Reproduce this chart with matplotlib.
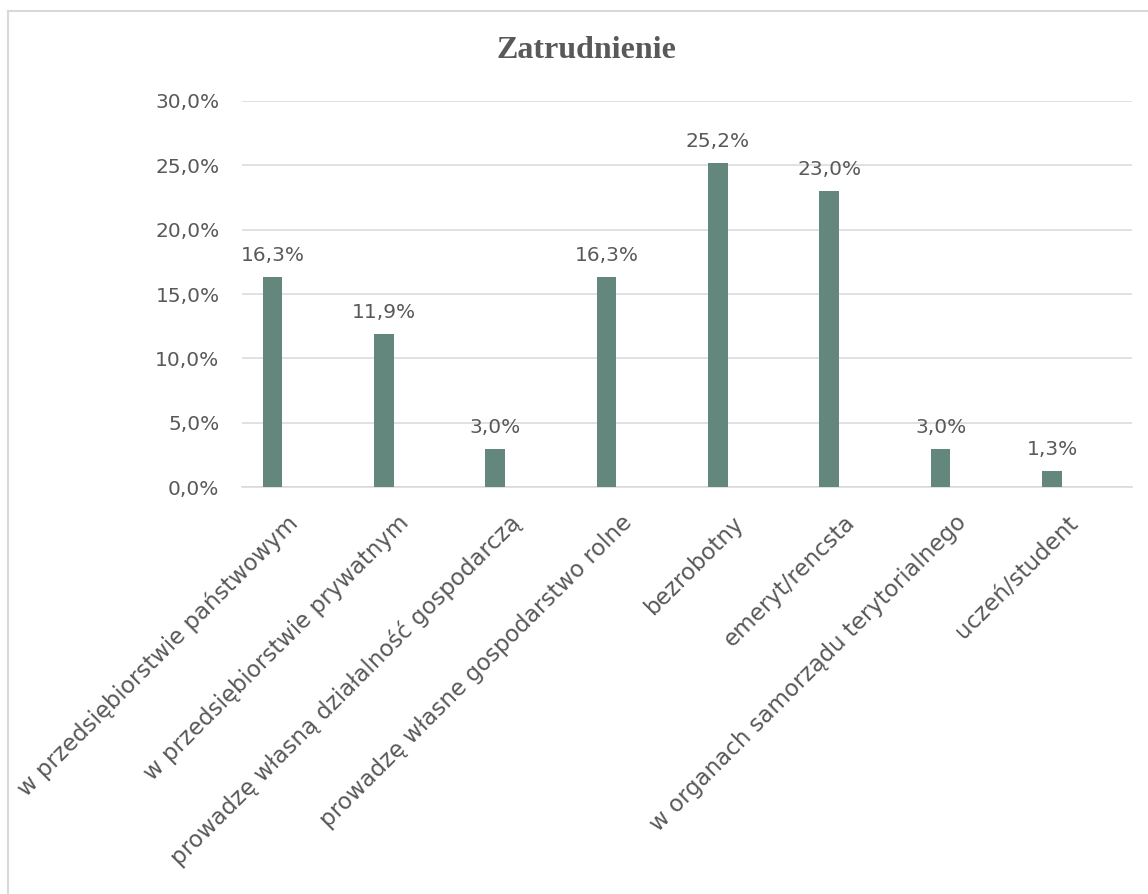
import matplotlib
matplotlib.use("Agg")
import matplotlib.pyplot as plt
from matplotlib.lines import Line2D
from matplotlib.transforms import ScaledTranslation
from matplotlib.ticker import FuncFormatter

categories = [
    "w przedsiębiorstwie państwowym",
    "w przedsiębiorstwie prywatnym",
    "prowadzę własną działalność gospodarczą",
    "prowadzę własne gospodarstwo rolne",
    "bezrobotny",
    "emeryt/rencsta",
    "w organach samorządu terytorialnego",
    "uczeń/student",
]
values = [16.3, 11.9, 3.0, 16.3, 25.2, 23.0, 3.0, 1.3]
yticks = [0, 5, 10, 15, 20, 25, 30]
title = "Zatrudnienie"

W, H = 1148, 894
DPI = 100
TXT = "#595959"
GRID = "#d9d9d9"
BAR = "#64877d"

plt.rcParams['font.family'] = ['DejaVu Sans']

fig = plt.figure(figsize=(W / DPI, H / DPI), dpi=DPI)
ax = fig.add_axes([241.7 / W, 1 - 487.3 / H, (1131.7 - 241.7) / W, (487.3 - 100.7) / H])

x = list(range(len(categories)))
ax.bar(x, values, width=0.176, color=BAR, zorder=3)

ax.set_ylim(0, 30)
ax.set_xlim(-0.2766, 7.716)
ax.set_yticks(yticks)
ax.yaxis.set_major_formatter(FuncFormatter(lambda v, p: f"{v:.1f}%".replace(".", ",")))
ax.tick_params(axis='y', length=0, pad=16, labelsize=14.5, labelcolor=TXT)
ax.set_xticks([])
ax.grid(axis='y', color=GRID, linewidth=1.1, zorder=0)
for s in ['top', 'right', 'left']:
    ax.spines[s].set_visible(False)
ax.spines['bottom'].set_color(GRID)
ax.spines['bottom'].set_linewidth(1.1)
ax.spines['bottom'].set_zorder(1)

# data labels
for xi, v in zip(x, values):
    ax.annotate(f"{v:.1f}%".replace(".", ","), (xi, v), xytext=(0, 11.5),
                textcoords='offset points', ha='center', va='baseline',
                fontsize=14.5, color=TXT)

# rotated category labels
for xi, c in zip(x, categories):
    tr = ax.get_xaxis_transform() + ScaledTranslation(22 / DPI, -32 / DPI, fig.dpi_scale_trans)
    ax.text(xi, 0, c, transform=tr, rotation=45, rotation_mode='anchor',
            ha='right', va='center', fontsize=16.5, color=TXT)

# title
fig.text(586 / W, 1 - 51 / H, title, ha='center', va='center',
         fontsize=23, fontweight='bold', family='Liberation Serif', color=TXT)

# chart frame (top and left visible)
fig.add_artist(Line2D([8 / W, 1.0], [1 - 11 / H, 1 - 11 / H], color=GRID, linewidth=1.5,
                      transform=fig.transFigure))
fig.add_artist(Line2D([8 / W, 8 / W], [0, 1 - 11 / H], color=GRID, linewidth=1.5,
                      transform=fig.transFigure))

fig.savefig("out.png", dpi=DPI)
